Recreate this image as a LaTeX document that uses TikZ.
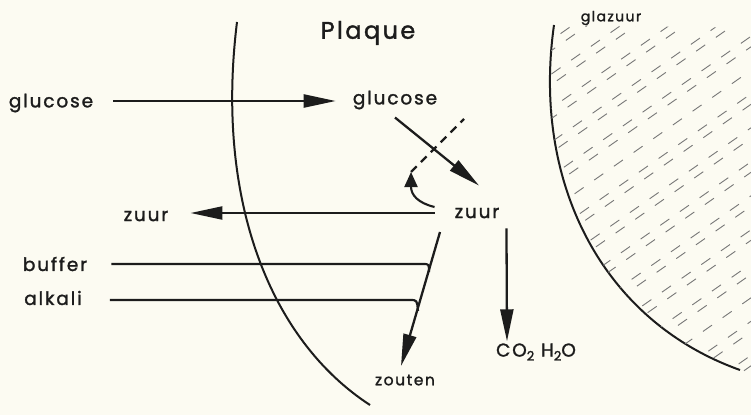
\documentclass[tikz,border=0pt]{standalone}
\usepackage{fontspec}
\setmainfont{Poppins}[LetterSpace=10, FakeBold=1.5]
\usetikzlibrary{arrows.meta, positioning, calc}
\definecolor{paper}{HTML}{FCFBF2}
\definecolor{ink}{HTML}{1C1C1C}
\newcommand{\lowtwo}{\raisebox{-4pt}{\fontsize{13}{14}\selectfont 2}}

\begin{document}
\begin{tikzpicture}[x=1pt, y=-1pt,
    every node/.style={font=\fontsize{18.5}{20}\selectfont, text=ink, inner sep=2pt},
    small/.style={font=\fontsize{14}{16}\selectfont},
    flow/.style={-{Triangle[length=32pt, width=13pt]}, line width=2.3pt, draw=ink},
    turn/.style={-{Triangle[length=15pt, width=13pt]}, line width=2.1pt, draw=ink},
    feed/.style={line width=2.2pt, draw=ink},
    wall/.style={line width=2pt, draw=ink},
    hatch/.style={draw=ink!60, line width=0.9pt, dash pattern=on 11pt off 13pt}
]
    \fill[paper] (0,0) rectangle (751,415);
    \useasboundingbox (0,0) rectangle (751,415);

    % boundaries of plaque and enamel
    \draw[wall] (237,22) .. controls (215,200) and (270,340) .. (370,405);
    \draw[wall] (554,25) .. controls (532,180) and (600,320) .. (740,370);
    \begin{scope}
        \clip (554,25) .. controls (532,180) and (600,320) .. (740,370) -- (751,385) -- (751,28) -- cycle;
        \foreach \k in {0,...,29}
            \draw[hatch] ({-40+\k*25},420) ++(0,{-mod(\k*7,13)}) -- ++(700,-490);
    \end{scope}

    % labels
    \node[font=\fontsize{24}{26}\selectfont] (plaque) at (368,33) {Plaque};
    \node[small] (glazuur) at (611,18) {glazuur};
    \node (glcext) at (51,103) {glucose};
    \node (glcint) at (395,100) {glucose};
    \node (zuurext) at (146,216) {zuur};
    \node (zuurint) at (477,213) {zuur};
    \node (buffer) at (55,264) {buffer};
    \node (alkali) at (53,298) {alkali};
    \node[font=\fontsize{15.5}{17}\selectfont] (zouten) at (405,380) {zouten};
    \node (coh) at (536,352) {CO\lowtwo\ H\lowtwo O};

    % fixed points of the connectors
    \coordinate (tip) at (411,172);
    \coordinate (dashend) at (464,119);
    \coordinate (fork) at (440,232);
    \coordinate (salts) at (401,366);

    \draw[flow] ($(glcext.east)+(18,-2)$) -- ($(glcint.west)+(-15,1)$);
    \draw[flow] ($(glcint.south)+(0,6)$) -- ($(zuurint.north)+(2,-20)$);
    \draw[flow] ($(zuurint.west)+(-18,0)$) -- ($(zuurext.east)+(20,-3)$);
    \draw[flow] ($(zuurint.south east)+(5,8)$) -- (coh.north -| 507,0);
    \draw[turn] ($(zuurint.west)+(-18,-6)$) .. controls (418,203) and (411,195) .. (tip);
    \draw[feed, dash pattern=on 8pt off 6pt] (tip) -- (dashend);
    \draw[flow] (fork) -- (salts);
    \draw[feed] ($(buffer.east)+(22,0)$) -- (423,264) .. controls (429,264) .. (429,272);
    \draw[feed] ($(alkali.east)+(26,2)$) -- (410,300) .. controls (417,300) .. (418,311);
\end{tikzpicture}
\end{document}
